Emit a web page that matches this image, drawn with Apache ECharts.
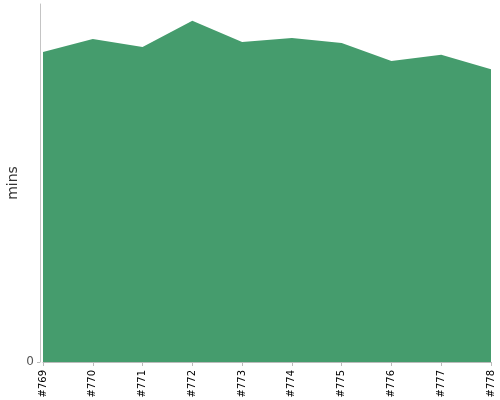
<!DOCTYPE html>
<html>
<head>
<meta charset="utf-8">
<script src="https://cdn.jsdelivr.net/npm/echarts@6/dist/echarts.min.js"></script>
<style>
  html, body { margin: 0; padding: 0; background: #fff; }
  #chart { width: 500px; height: 400px; }
</style>
</head>
<body>
<div id="chart"></div>
<script>
var builds = ['#769', '#770', '#771', '#772', '#773', '#774', '#775', '#776', '#777', '#778'];
var durations = [86.6, 90.2, 88.0, 95.3, 89.4, 90.5, 89.1, 84.1, 85.8, 81.8];
var yTicks = [0];

var chartMain = (function() {
    var myChart = echarts.init(document.getElementById('chart'));
    var option = {
        animation: false,
        grid: { left: 43, right: 9, top: 4, bottom: 38, outerBoundsMode: 'none' },
        xAxis: {
            type: 'category',
            data: builds,
            boundaryGap: false,
            offset: 3,
            axisLine: { lineStyle: { color: '#bbb' } },
            axisTick: { alignWithLabel: true, length: 4, lineStyle: { color: '#bbb' } },
            axisLabel: {
                rotate: 90, color: '#000', fontSize: 10, margin: 5,
                fontFamily: 'DejaVu Sans', interval: 0
            }
        },
        yAxis: {
            type: 'value',
            min: 0,
            max: 100,
            offset: 3,
            name: 'mins',
            nameLocation: 'middle',
            nameGap: 20,
            nameMoveOverlap: false,
            nameTextStyle: { fontSize: 14, color: '#333', fontFamily: 'DejaVu Sans' },
            splitLine: { show: false },
            axisLine: { show: true, lineStyle: { color: '#c4c4c4' } },
            axisTick: { show: true, length: 3, customValues: yTicks, lineStyle: { color: '#bbb' } },
            axisLabel: { customValues: yTicks, color: '#555', fontSize: 12, margin: 6, fontFamily: 'DejaVu Sans' }
        },
        series: [{
            type: 'line',
            data: durations,
            symbol: 'none',
            lineStyle: { width: 0 },
            areaStyle: { color: '#459c6d', opacity: 1 }
        }]
    };
    myChart.setOption(option, true);
    return { chart: myChart };
})();
</script>
</body>
</html>
